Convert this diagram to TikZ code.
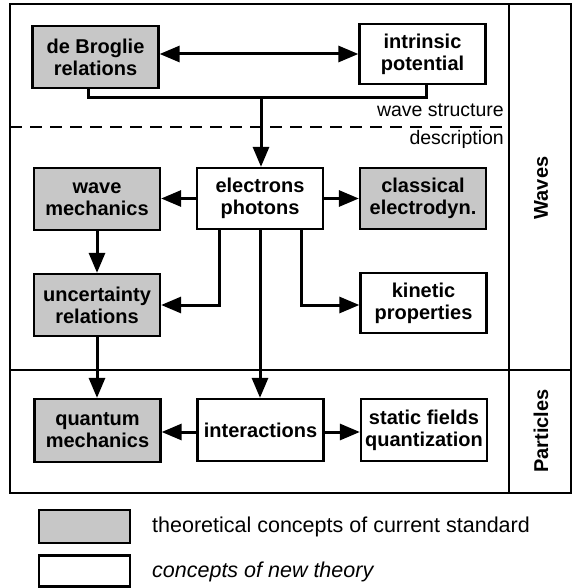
\documentclass[tikz,border=0pt]{standalone}
\usepackage{fontspec}
\setmainfont{Liberation Sans}
\usetikzlibrary{arrows.meta}
\begin{document}
\begin{tikzpicture}[x=1pt,y=-1pt,
  box/.style={draw=black,line width=2.3pt,minimum width=#1,align=center,inner sep=0pt,
    font=\fontsize{20}{22}\selectfont\bfseries},
  box/.default=126pt,
  stdbox/.style={box,fill=black!22},
  conn/.style={line width=3pt,-{Triangle[length=20pt,width=16pt]}},
  dbl/.style={line width=3pt,{Triangle[length=20pt,width=16pt]}-{Triangle[length=20pt,width=16pt]}},
  plain/.style={line width=3pt},
  frame/.style={line width=2.3pt},
  side/.style={font=\fontsize{20}{22}\selectfont\bfseries,rotate=90},
  note/.style={font=\fontsize{19.5}{21}\selectfont,anchor=east,inner sep=0pt},
  legtext/.style={font=\fontsize{21.5}{23}\selectfont,anchor=west,inner sep=0pt}
]
\useasboundingbox (0,0) rectangle (575,588);
\fill[white] (0,0) rectangle (575,588);
% frame
\draw[frame] (10,4) rectangle (571,493);
\draw[frame] (509,4) -- (509,493);
\draw[frame] (10,370) -- (571,370);
\draw[line width=1.4pt,dash pattern=on 12pt off 8pt] (10,127) -- (509,127);
\node[side] (waves) at (541,188) {Waves};
\node[side] (parts) at (541,431) {Particles};
\node[note] (ws) at (504,110) {wave structure};
\node[note] (desc) at (504,139) {description};
% boxes
\node[stdbox,minimum height=62pt] (db) at (95.5,57) {de Broglie\\relations};
\node[box,minimum height=60pt] (ip) at (422.5,54) {intrinsic\\potential};
\node[stdbox,minimum height=62pt] (wm) at (97,199) {wave\\mechanics};
\node[box,minimum height=61pt] (ep) at (260,198.5) {electrons\\photons};
\node[stdbox,minimum height=61pt] (ce) at (423,198.5) {classical\\electrodyn.};
\node[stdbox,minimum height=62pt] (ur) at (97,305) {uncertainty\\relations};
\node[box,minimum height=60pt] (kp) at (423.5,303) {kinetic\\properties};
\node[stdbox,minimum height=63pt] (qm) at (97.5,430.5) {quantum\\mechanics};
\node[box,minimum height=62pt] (ia) at (260.5,430) {interactions};
\node[box,minimum height=62pt] (sf) at (424,430) {static fields\\quantization};
% connectors
\draw[dbl] (db.east |- 0,54) -- (ip.west |- 0,54);
\coordinate (bl) at (88,98);
\coordinate (br) at (426,98);
\coordinate (bm) at (261,98);
\draw[plain] (db.south -| bl) -- (bl) -- (br) -- (ip.south -| br);
\draw[conn] (bm) -- (ep.north -| bm);
\draw[conn] (ep.west) -- (wm.east |- ep.west);
\draw[conn] (ep.east) -- (ce.west |- ep.east);
\draw[conn] (wm.south) -- (ur.north);
\coordinate (cl) at (219,305);
\coordinate (cr) at (301,305);
\draw[conn] (ep.south -| cl) -- (cl) -- (ur.east |- cl);
\draw[conn] (ep.south -| cr) -- (cr) -- (kp.west |- cr);
\draw[conn] (ep.south) -- (ia.north -| ep.south);
\draw[conn] (ur.south) -- (qm.north -| ur.south);
\draw[conn] (ia.west |- 0,432) -- (qm.east |- 0,432);
\draw[conn] (ia.east |- 0,432) -- (sf.west |- 0,432);
% legend
\node[stdbox,minimum width=91pt,minimum height=33pt] (lg1) at (84.5,526.5) {};
\node[box,minimum width=91pt,minimum height=31pt] (lg2) at (84.5,571) {};
\node[legtext] (lt1) at (152,527) {theoretical concepts of current standard};
\node[legtext] (lt2) at (152,572) {\itshape concepts of new theory};
\end{tikzpicture}
\end{document}
